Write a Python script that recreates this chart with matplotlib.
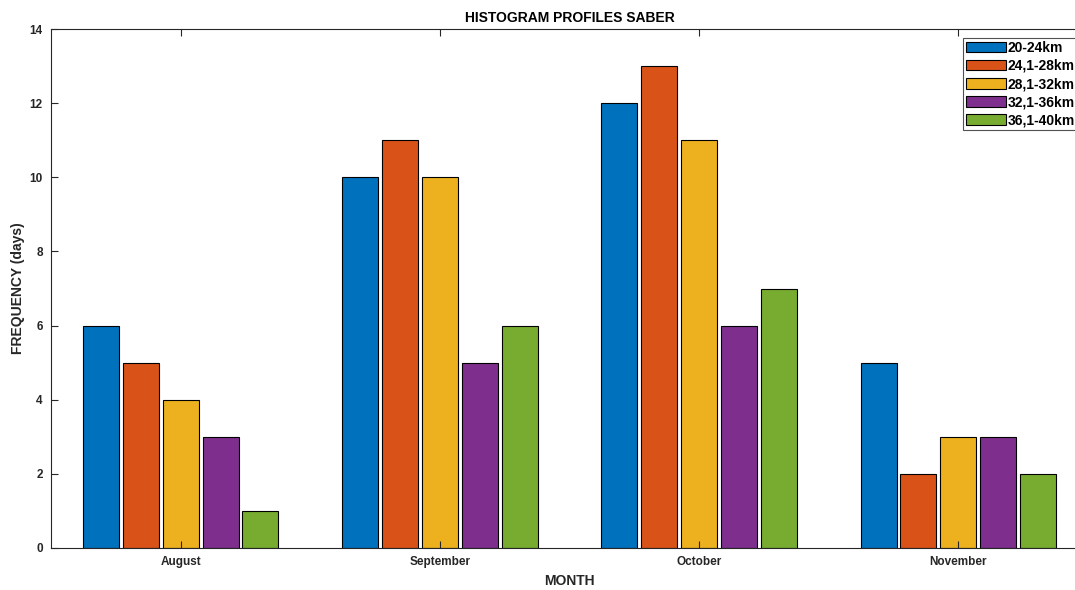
import matplotlib.pyplot as plt
import numpy as np

plt.rcParams['font.family'] = ['Liberation Sans', 'DejaVu Sans']

months = ['August', 'September', 'October', 'November']
layers = ['20-24km', '24,1-28km', '28,1-32km', '32,1-36km', '36,1-40km']
freq_20_24 = [6, 10, 12, 5]
freq_24_28 = [5, 11, 13, 2]
freq_28_32 = [4, 10, 11, 3]
freq_32_36 = [3, 5, 6, 3]
freq_36_40 = [1, 6, 7, 2]
series = [freq_20_24, freq_24_28, freq_28_32, freq_32_36, freq_36_40]

# matlab default colour order
colors = ['#0072BD', '#D95319', '#EDB120', '#7E2F8E', '#77AC30']

fig = plt.figure(figsize=(10.75, 5.9), dpi=100)
# axes extends a little past the right edge, like the cropped original
ax = fig.add_axes([51/1075, 1 - 548/590, (1088 - 51)/1075, (548 - 29)/590])

x = np.arange(1, len(months) + 1)
step = 0.154
width = 0.139
for i, (vals, lab) in enumerate(zip(series, layers)):
    ax.bar(x + (i - 2) * step, vals, width=width, color=colors[i],
           edgecolor='black', linewidth=0.8, label=lab)

ax.set_xlim(0.5, 4.5)
ax.set_ylim(0, 14)
ax.set_xticks(x)
ax.set_xticklabels(months)
ax.set_yticks(np.arange(0, 15, 2))

ax.tick_params(direction='in', top=True, right=False, length=5, width=0.8,
               colors='#262626', labelsize=8.5, pad=6)
for t in ax.get_xticklabels() + ax.get_yticklabels():
    t.set_fontweight('bold')
for s in ax.spines.values():
    s.set_color('#262626')
    s.set_linewidth(0.8)
ax.spines['right'].set_visible(False)

ax.set_title('HISTOGRAM PROFILES SABER', fontsize=10, fontweight='bold', pad=5)
ax.set_xlabel('MONTH', fontsize=10, fontweight='bold', color='#262626', labelpad=4)
ax.set_ylabel('FREQUENCY (days)', fontsize=10, fontweight='bold', color='#262626', labelpad=3)

leg = ax.legend(loc='upper left', bbox_to_anchor=((963 - 51)/(1088 - 51), 1 - 9/519),
                prop={'weight': 'bold', 'size': 10}, frameon=True, fancybox=False,
                edgecolor='#262626', handlelength=2.9, handleheight=0.8,
                handletextpad=0.12, labelspacing=0.3, borderpad=0.2, borderaxespad=0)
leg.get_frame().set_linewidth(0.8)

fig.savefig('out.png', dpi=100)
